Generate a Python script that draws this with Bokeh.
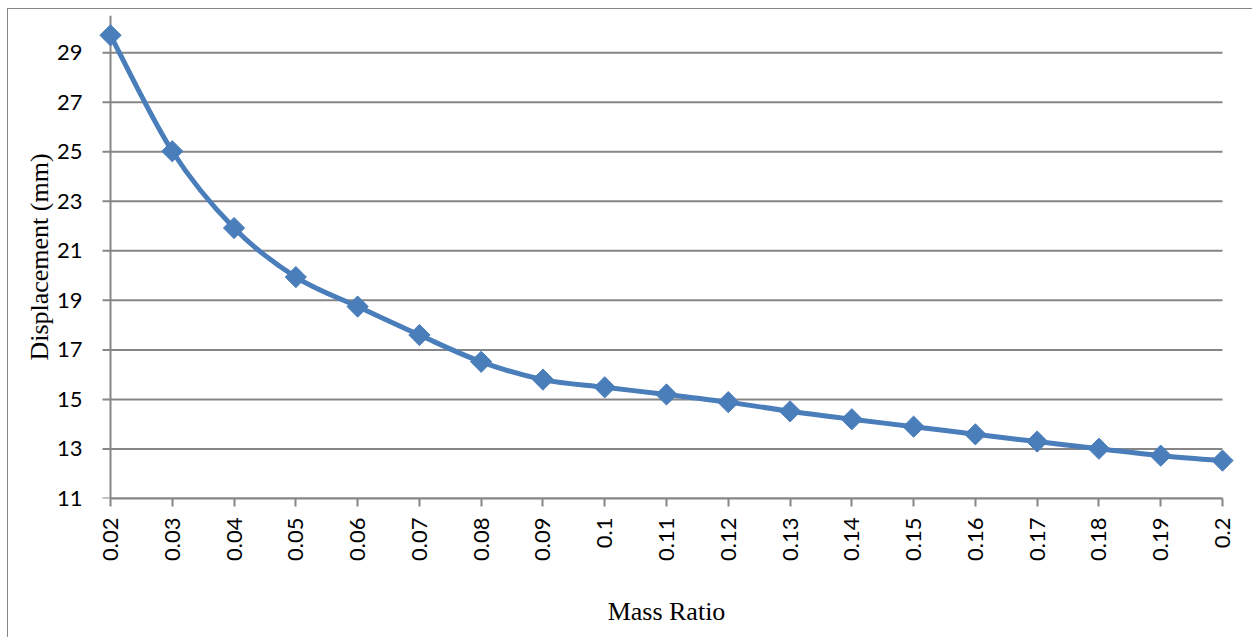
import numpy as np
from bokeh.plotting import figure
from bokeh.models import Range1d, FixedTicker, CustomJSTickFormatter, ColumnDataSource
from bokeh.embed import file_html
from bokeh.resources import INLINE

mass_ratio = [0.02, 0.03, 0.04, 0.05, 0.06, 0.07, 0.08, 0.09, 0.10, 0.11,
              0.12, 0.13, 0.14, 0.15, 0.16, 0.17, 0.18, 0.19, 0.20]
displacement = [29.7, 25.02, 21.92, 19.94, 18.75, 17.6, 16.52, 15.8, 15.49, 15.2,
                14.89, 14.52, 14.2, 13.9, 13.59, 13.3, 13.01, 12.73, 12.53]
y_ticks = [11, 13, 15, 17, 19, 21, 23, 25, 27, 29]
Y_MIN, Y_MAX = 11, 30.5

BLUE = "#4a7ebb"
GRAY = "#868686"

# layout constants (pixels)
AXIS_LEN_PX = 1111          # distance between first and last category
PAD_PX = 14                 # extra frame room so end markers are not clipped
TICK_PX = 8
x_first, x_last = mass_ratio[0], mass_ratio[-1]
units_per_px = (x_last - x_first) / AXIS_LEN_PX
pad = PAD_PX * units_per_px
tick_len = TICK_PX * units_per_px

p = figure(width=1245, height=629, output_backend="svg", toolbar_location=None,
           x_range=Range1d(x_first - pad, x_last + pad), y_range=Range1d(Y_MIN, Y_MAX),
           min_border_left=102 - PAD_PX, min_border_right=31 - PAD_PX,
           min_border_top=6, min_border_bottom=140)
p.styles = {"margin-left": "7px", "margin-top": "8px",
            "border-left": "1px solid #868686", "border-top": "1px solid #868686",
            "box-sizing": "border-box"}
p.outline_line_color = None
p.background_fill_color = "white"
p.border_fill_color = "white"

# horizontal gridlines (with their outward tick marks) and the vertical axis line
p.segment(x0=[x_first - tick_len] * len(y_ticks), x1=[x_last] * len(y_ticks),
          y0=y_ticks, y1=y_ticks, line_color=GRAY, line_width=2)
p.segment(x0=[x_first], x1=[x_first], y0=[Y_MIN], y1=[Y_MAX], line_color=GRAY, line_width=2)

# Smooth line (Catmull-Rom bezier segments like Excel's smoothed line)
x = np.array(mass_ratio)
y = np.array(displacement)
n = len(x)
x0s, y0s, x1s, y1s, cx0, cy0, cx1, cy1 = [], [], [], [], [], [], [], []
for i in range(n - 1):
    pm = i - 1 if i > 0 else i
    pp = i + 2 if i + 2 < n else i + 1
    x0s.append(x[i]); y0s.append(y[i]); x1s.append(x[i + 1]); y1s.append(y[i + 1])
    cx0.append(x[i] + (x[i + 1] - x[pm]) / 6); cy0.append(y[i] + (y[i + 1] - y[pm]) / 6)
    cx1.append(x[i + 1] - (x[pp] - x[i]) / 6); cy1.append(y[i + 1] - (y[pp] - y[i]) / 6)
p.bezier(x0=x0s, y0=y0s, x1=x1s, y1=y1s, cx0=cx0, cy0=cy0, cx1=cx1, cy1=cy1,
         line_color=BLUE, line_width=5)

src = ColumnDataSource(dict(x=mass_ratio, y=displacement))
p.scatter("x", "y", source=src, marker="square", angle=np.pi / 4, size=15,
          fill_color=BLUE, line_color=BLUE)

# axes
p.xaxis.ticker = FixedTicker(ticks=mass_ratio)
p.xaxis.formatter = CustomJSTickFormatter(code="return String(Number(tick.toFixed(2)));")
p.xaxis.major_label_orientation = np.pi / 2
p.xaxis.bounds = (x_first, x_last)
p.yaxis.ticker = FixedTicker(ticks=y_ticks)

for ax in (p.xaxis[0], p.yaxis[0]):
    ax.axis_line_color = GRAY
    ax.axis_line_width = 2
    ax.major_tick_line_color = GRAY
    ax.major_tick_line_width = 2
    ax.major_tick_out = TICK_PX
    ax.major_tick_in = 0
    ax.minor_tick_line_color = None
    ax.major_label_text_font = "Lato"
    ax.major_label_text_font_size = "22px"
    ax.major_label_text_color = "black"
    ax.axis_label_text_font = "Liberation Serif"
    ax.axis_label_text_font_style = "normal"
    ax.axis_label_text_font_size = "26px"
    ax.axis_label_text_color = "black"

# y axis line/ticks are drawn as segments above; keep only its labels
p.yaxis.axis_line_color = None
p.yaxis.major_tick_line_color = None
p.yaxis.major_tick_out = 0

p.xaxis.axis_label = "Mass Ratio"
p.xaxis.major_label_standoff = 11
p.xaxis.axis_label_standoff = 33
p.yaxis.axis_label = "Displacement (mm)"
p.yaxis.major_label_standoff = 20 + TICK_PX - PAD_PX
p.yaxis.axis_label_standoff = 0

p.xgrid.grid_line_color = None
p.ygrid.grid_line_color = None

open("out.html", "w").write(file_html(p, INLINE))
